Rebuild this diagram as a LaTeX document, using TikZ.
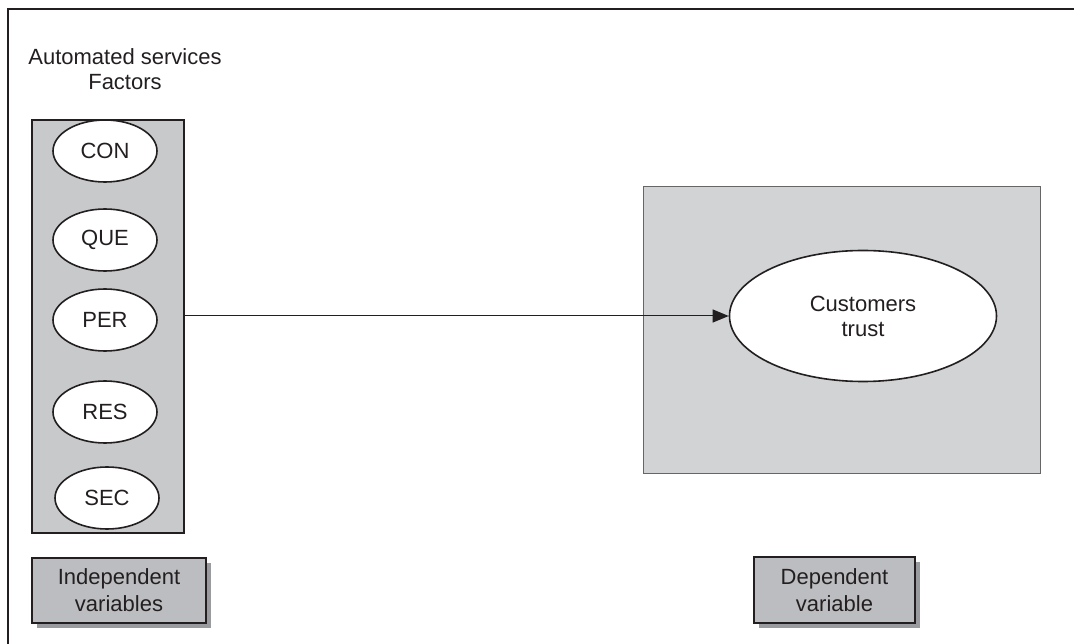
\documentclass[tikz,border=0pt]{standalone}
\usepackage{fontspec}
\setmainfont{Liberation Sans}
\usetikzlibrary{shapes.geometric,arrows.meta,shadows}
\definecolor{boxgray}{HTML}{C8C9CB}
\definecolor{panelgray}{HTML}{D1D3D4}
\definecolor{labelgray}{HTML}{BCBDC0}
\definecolor{shadowgray}{HTML}{9A9B9E}
\definecolor{ink}{HTML}{231F20}
\tikzset{
  factor/.style={ellipse, draw=ink, line width=1.6pt, fill=white, minimum width=104pt, minimum height=62pt, inner sep=0pt, font=\fontsize{22}{25}\selectfont, text=ink},
  labelbox/.style={draw=ink, line width=1.2pt, fill=labelgray, align=center, inner sep=0pt, font=\fontsize{22}{27}\selectfont, text=ink,
    drop shadow={shadow xshift=5pt, shadow yshift=-5pt, fill=shadowgray, opacity=1}},
}
\begin{document}
\begin{tikzpicture}[x=1pt,y=-1pt]
\useasboundingbox (0,0) rectangle (1074,644);
% outer frame (open at right and bottom)
\draw[ink, line width=1.2pt] (8,644) -- (8,9) -- (1074,9);
% title
\node[align=center, font=\fontsize{22}{25}\selectfont, text=ink] (title) at (125,69) {Automated services\\Factors};
% left box
\node[draw=ink, line width=2pt, fill=boxgray, minimum width=152pt, minimum height=413pt, inner sep=0pt] (lbox) at (108,326.5) {};
\node[factor] (con) at (105,151) {CON};
\node[factor] (que) at (105,240) {QUE};
\node[factor] (per) at (105,320) {PER};
\node[factor] (res) at (105,412) {RES};
\node[factor] (sec) at (107,498) {SEC};
% right panel
\node[draw=gray!80!black, line width=1pt, fill=panelgray, minimum width=397pt, minimum height=286pt, inner sep=0pt] (rbox) at (841.5,330) {};
\node[ellipse, draw=ink, line width=1.6pt, fill=white, minimum width=267pt, minimum height=131pt, inner sep=0pt, align=center, font=\fontsize{22}{25}\selectfont, text=ink] (trust) at (863,316) {Customers\\trust};
% arrow
\coordinate (start) at (lbox.east |- trust.west);
\draw[ink, line width=1pt, -{Triangle[length=16pt,width=13pt]}] (start) -- (trust.west);
% label boxes
\node[labelbox, minimum width=174pt, minimum height=65pt] (indep) at (119,590.5) {Independent\\variables};
\node[labelbox, minimum width=161pt, minimum height=66pt] (dep) at (834.5,590) {Dependent\\variable};
\end{tikzpicture}
\end{document}
